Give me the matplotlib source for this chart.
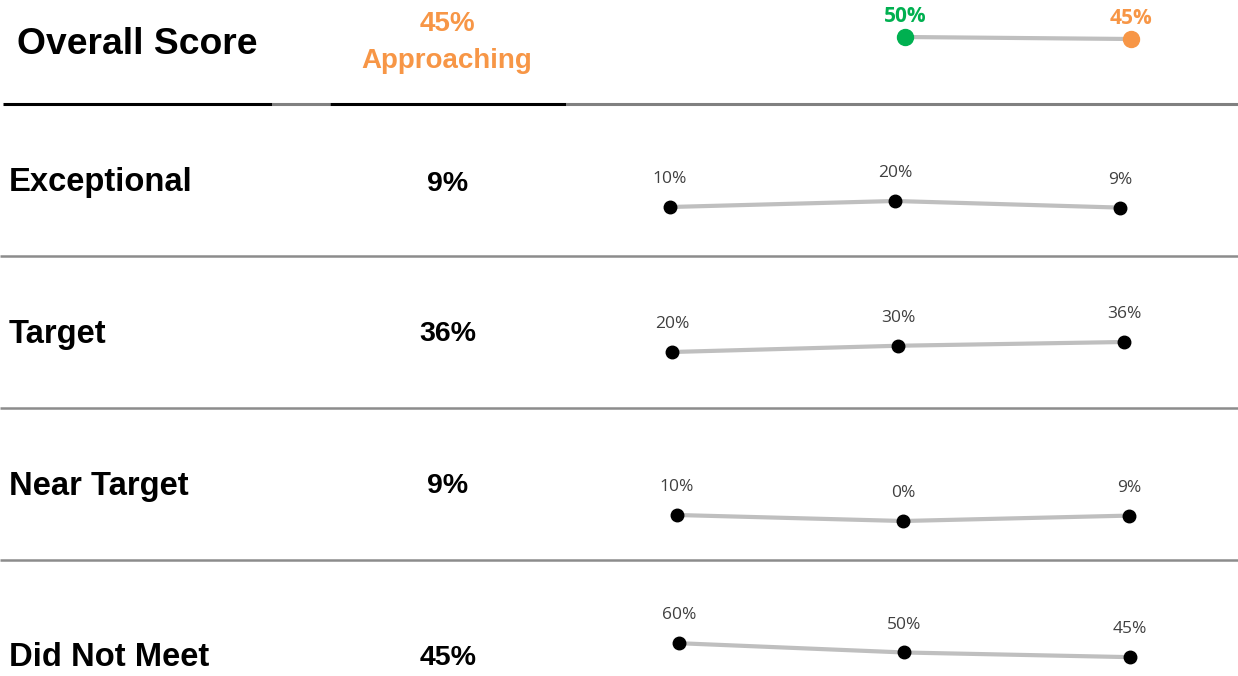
import matplotlib
matplotlib.use("Agg")
import matplotlib.pyplot as plt
from matplotlib.lines import Line2D

# ---------------- data ----------------
categories = ["Exceptional", "Target", "Near Target", "Did Not Meet"]
current_values = [9, 36, 9, 45]
trend_exceptional = [10, 20, 9]
trend_target = [20, 30, 36]
trend_near_target = [10, 0, 9]
trend_did_not_meet = [60, 50, 45]
trends = [trend_exceptional, trend_target, trend_near_target, trend_did_not_meet]

overall_title = "Overall Score"
overall_value = 45
overall_level = "Approaching"
overall_trend_positions = [1, 2]
overall_trend = [50, 45]
overall_point_colors = ["#00B050", "#F79646"]

# ---------------- layout ----------------
W, H = 1238, 676
fig = plt.figure(figsize=(W / 100, H / 100), dpi=100)
fig.patch.set_facecolor("white")

ORANGE = "#F79646"
LINE_GRAY = "#BFBFBF"
SEP_GRAY = "#8C8C8C"
LABEL_GRAY = "#404040"


def fx(x):
    return x / W


def fy(y):
    return 1 - y / H


def hline(x0, x1, y, color, lw=2.0):
    fig.add_artist(Line2D([fx(x0), fx(x1)], [fy(y), fy(y)], color=color, lw=lw,
                          transform=fig.transFigure, solid_capstyle="butt"))


# header
fig.text(fx(17), fy(44), overall_title, fontsize=26.8, fontweight="bold",
         family="Liberation Sans", ha="left", va="center", color="black")
fig.text(fx(447), fy(24), f"{overall_value}%", fontsize=20, fontweight="bold",
         family="Liberation Sans", ha="center", va="center", color=ORANGE)
fig.text(fx(447), fy(61), overall_level, fontsize=20, fontweight="bold",
         family="Liberation Sans", ha="center", va="center", color=ORANGE)

# header underline
hline(3, 272, 103.5, "black", 2.2)
hline(272, 330, 103.5, "#808080", 2.2)
hline(330, 566, 103.5, "black", 2.2)
hline(566, 1238, 103.5, "#808080", 2.2)

# row separators
for ysep in [256, 408, 560]:
    hline(0, 1238, ysep, SEP_GRAY, 1.8)

# row text
row_label_y = [183, 334, 486, 657]
row_value_y = [184, 334, 486, 658]
for cat, val, yl, yv in zip(categories, current_values, row_label_y, row_value_y):
    fig.text(fx(9), fy(yl), cat, fontsize=23.6, fontweight="bold",
             family="Liberation Sans", ha="left", va="center", color="black")
    fig.text(fx(448), fy(yv), f"{val}%", fontsize=20.5, fontweight="bold",
             family="Liberation Sans", ha="center", va="center", color="black")


def spark_axes(x0, dx, base, k):
    """Axes where index i sits at pixel x0+i*dx and value v at pixel base-k*v."""
    left = x0 - 0.5 * dx
    width = 3 * dx
    height = 100 * k
    ax = fig.add_axes([fx(left), 1 - base / H, width / W, height / H])
    ax.set_xlim(-0.5, 2.5)
    ax.set_ylim(0, 100)
    ax.axis("off")
    return ax


# row sparklines: (x of first point, spacing, pixel of 0%, px per %)
spark_geom = [(670, 225, 213, 0.6), (672, 226, 364.5, 0.625),
              (677, 226, 521, 0.6), (679, 225.5, 699, 0.93)]
for vals, (x0, dx, base, k) in zip(trends, spark_geom):
    ax = spark_axes(x0, dx, base, k)
    xs = list(range(len(vals)))
    ax.plot(xs, vals, color=LINE_GRAY, lw=3.0, zorder=1, clip_on=False,
            solid_capstyle="round")
    ax.plot(xs, vals, "o", color="black", ms=9, zorder=2, clip_on=False)
    for xi, v in zip(xs, vals):
        ax.annotate(f"{v}%", (xi, v), xytext=(0, 20), textcoords="offset points",
                    ha="center", va="center", fontsize=12.5, color=LABEL_GRAY,
                    family="Open Sans", annotation_clip=False)

# overall sparkline
ax = spark_axes(679, 226, 57, 0.4)
ax.plot(overall_trend_positions, overall_trend, color=LINE_GRAY, lw=3.0,
        zorder=1, clip_on=False)
for xi, v, c in zip(overall_trend_positions, overall_trend, overall_point_colors):
    ax.plot([xi], [v], "o", color=c, ms=11.5, zorder=2, clip_on=False)
    ax.annotate(f"{v}%", (xi, v), xytext=(0, 14.5), textcoords="offset points",
                ha="center", va="center", fontsize=15, fontweight="bold", color=c,
                family="Open Sans", annotation_clip=False)

fig.savefig("out.png", dpi=100, facecolor="white")
